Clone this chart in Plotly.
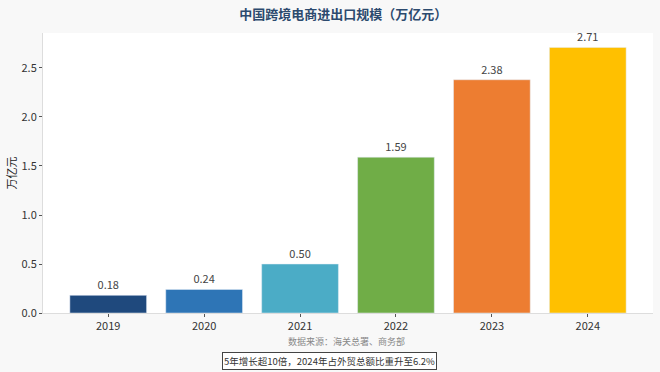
import plotly.graph_objects as go

years = ["2019", "2020", "2021", "2022", "2023", "2024"]
values = [0.18, 0.24, 0.50, 1.59, 2.38, 2.71]
value_labels = ["0.18", "0.24", "0.50", "1.59", "2.38", "2.71"]
colors = ["#1f497d", "#2e75b6", "#4bacc6", "#70ad47", "#ed7d31", "#ffc000"]
y_ticks = [0.0, 0.5, 1.0, 1.5, 2.0, 2.5]
y_tick_labels = ["0.0", "0.5", "1.0", "1.5", "2.0", "2.5"]

FONT = "Noto Sans CJK SC"

fig = go.Figure()
fig.add_trace(go.Bar(
    x=years, y=values, marker_color=colors, width=0.8,
    text=value_labels, textposition="outside", cliponaxis=False,
    textfont=dict(size=11, color="#444444", family=FONT),
    hoverinfo="skip",
))

fig.update_layout(
    width=660, height=372,
    margin=dict(l=43, r=7, t=33, b=59),
    paper_bgcolor="#f8f8f8", plot_bgcolor="#ffffff",
    font=dict(family=FONT, color="#333333"),
    showlegend=False,
    title=dict(text="中国跨境电商进出口规模（万亿元）", x=0.52, xanchor="center",
               y=0.962, yanchor="middle",
               font=dict(size=13, color="#2c4a6e", family=FONT, weight=600)),
    xaxis=dict(type="category", range=[-0.68, 5.68], showline=True,
               linecolor="#dddddd", linewidth=1, ticks="outside", ticklen=3,
               tickcolor="#555555", tickfont=dict(size=11, color="#333333"),
               showgrid=False, zeroline=False),
    yaxis=dict(range=[0, 2.857], tickvals=y_ticks, ticktext=y_tick_labels,
               showline=True, linecolor="#dddddd", linewidth=1, ticks="outside",
               ticklen=3, tickcolor="#555555", tickfont=dict(size=11, color="#333333"),
               showgrid=False, zeroline=False,
               title=dict(text="万亿元", font=dict(size=11, color="#222222"), standoff=2)),
)

fig.add_annotation(text="数据来源：海关总署、商务部", xref="paper", yref="paper",
                   x=0.498, xanchor="center", y=-0.1, yanchor="middle", showarrow=False,
                   font=dict(size=9, color="#888888", family=FONT))
fig.add_annotation(text="5年增长超10倍，2024年占外贸总额比重升至6.2%", xref="paper", yref="paper",
                   x=0.47, xanchor="center", y=-0.14, yanchor="top", showarrow=False,
                   font=dict(size=9.5, color="#333333", family=FONT),
                   bordercolor="#444444", borderwidth=1, borderpad=1, bgcolor="#ffffff")

fig.write_html("out.html", config={"displayModeBar": False},
               post_script="document.body.style.margin='0';document.body.style.background='#f8f8f8';")
